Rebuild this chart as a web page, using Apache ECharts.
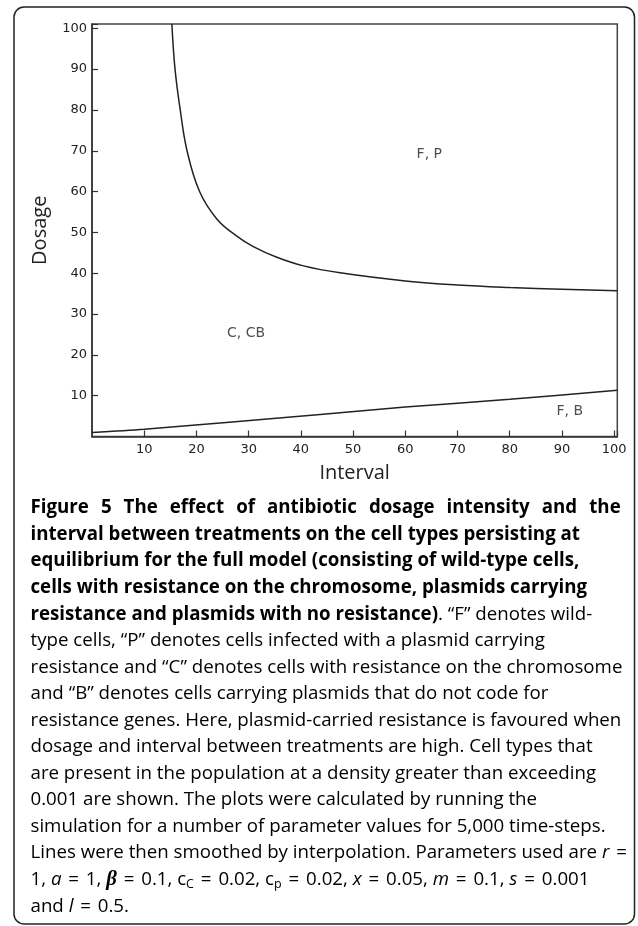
<!DOCTYPE html>
<html>
<head>
<meta charset="utf-8">
<script src="https://cdn.jsdelivr.net/npm/echarts@6/dist/echarts.min.js"></script>
<style>
html,body{margin:0;padding:0;background:#fff;}
#chart{width:638px;height:926px;}
</style>
</head>
<body>
<div id="chart"></div>
<script>
// ---- Data ----
const upperX = [15.3, 15.9, 16.9, 18.2, 20.6, 23.9, 27.6, 30.9, 35.4, 40.5, 47.5, 60, 70, 80, 90, 100.6];
const upperY = [101.05, 90, 80, 70, 60, 53.3, 49.2, 46.5, 43.9, 41.8, 40.1, 38.1, 37.1, 36.5, 36.1, 35.7];
const lowerX = [0, 10, 43.7, 60, 80, 100.6];
const lowerY = [1.0, 1.8, 5.4, 7.2, 9.1, 11.3];
const regionNames = ['F, P', 'C, CB', 'F, B'];
const regionX = [64.6, 29.5, 91.5];
const regionY = [69.0, 25.3, 6.1];
const xTicks = [10, 20, 30, 40, 50, 60, 70, 80, 90, 100];
const yTicks = [10, 20, 30, 40, 50, 60, 70, 80, 90, 100];
const xName = 'Interval';
const yName = 'Dosage';
const captionFirstLineWords = ['Figure', '5', 'The', 'effect', 'of', 'antibiotic', 'dosage', 'intensity', 'and', 'the'];
const captionLines = [
 null, // first line is built from captionFirstLineWords (justified)
 '{b|interval between treatments on the cell types persisting at}',
 '{b|equilibrium for the full model (consisting of wild-type cells,}',
 '{b|cells with resistance on the chromosome, plasmids carrying}',
 '{b|resistance and plasmids with no resistance)}{n|. \u201CF\u201D denotes wild-}',
 '{n|type cells, \u201CP\u201D denotes cells infected with a plasmid carrying}',
 '{n|resistance and \u201CC\u201D denotes cells with resistance on the chromosome}',
 '{n|and \u201CB\u201D denotes cells carrying plasmids that do not code for}',
 '{n|resistance genes. Here, plasmid-carried resistance is favoured when}',
 '{n|dosage and interval between treatments are high. Cell types that}',
 '{n|are present in the population at a density greater than exceeding}',
 '{n|0.001 are shown. The plots were calculated by running the}',
 '{n|simulation for a number of parameter values for 5,000 time-steps.}',
 '{n|Lines were then smoothed by interpolation. Parameters used are }{i|r}{n| }{eq|=}',
 '{n|1, }{i|a}{n| }{eq|=}{n| 1, }{beta|\u03B2}{n| }{eq|=}{n| 0.1, c}{sub|C}{n| }{eq|=}{n| 0.02, c}{sub|p}{n| }{eq|=}{n| 0.02, }{i|x}{n| }{eq|=}{n| 0.05, }{i|m}{n| }{eq|=}{n| 0.1, }{i|s}{n| }{eq|=}{n| 0.001}',
 '{n|and }{i|l}{n| }{eq|=}{n| 0.5.}'
];

// ---- Chart ----
const chart = echarts.init(document.getElementById('chart'), null, {renderer: 'canvas'});
const axisColor = '#333';
const capFont = 'Open Sans';
const capSize = 18.7;
const boldSize = 18.7;
const normalColor = '#4a4a4a';
const boldColor = '#231f20';
const rich = {
  b: {fontFamily: capFont, fontWeight: 'bold', fontSize: boldSize, color: boldColor},
  bj: {fontFamily: capFont, fontWeight: 'bold', fontSize: boldSize, color: boldColor, padding: [0, 7.2, 0, 0]},
  n: {fontFamily: capFont, fontSize: capSize, color: normalColor},
  eq: {fontFamily: capFont, fontSize: capSize, color: normalColor, padding: [0, 2, 0, 2]},
  i: {fontFamily: capFont, fontStyle: 'italic', fontSize: capSize, color: normalColor},
  beta: {fontFamily: 'Liberation Serif', fontWeight: 'bold', fontStyle: 'italic', fontSize: capSize + 2, color: boldColor},
  sub: {fontFamily: capFont, fontSize: 12.5, color: normalColor, padding: [9, 0, 0, 0]}
};
captionLines[0] = captionFirstLineWords.map(function (w, i) {
  return i < captionFirstLineWords.length - 1 ? '{bj|' + w + ' }' : '{b|' + w + '}';
}).join('');
const graphics = [{
  type: 'rect', z: 10, silent: true,
  shape: {x: 14, y: 7, width: 620.5, height: 917, r: 10},
  style: {fill: 'none', stroke: '#222', lineWidth: 1.5}
}];
captionLines.forEach(function (t, k) {
  graphics.push({
    type: 'text', z: 10, silent: true,
    x: 30.5, y: 508 + k * 26.55,
    style: {text: t, rich: rich, verticalAlign: 'middle', align: 'left'}
  });
});
const isTick = function (list) {
  return function (v) {
    for (let i = 0; i < list.length; i++) if (Math.abs(list[i] - v) < 1e-6) return String(list[i]);
    return '';
  };
};
const tickLabel = {fontFamily: 'DejaVu Sans', fontSize: 13, color: '#222'};
chart.setOption({
  animation: false,
  backgroundColor: '#fff',
  grid: {left: 92, right: 20.7, top: 24, bottom: 489.5, show: true, borderColor: '#444', borderWidth: 1.5, backgroundColor: 'transparent'},
  xAxis: {
    type: 'value', min: 0, max: 100.6, interval: 10,
    name: xName, nameLocation: 'middle', nameGap: 27,
    nameTextStyle: {fontFamily: 'Open Sans', fontSize: 20, color: '#222'},
    axisLine: {show: true, lineStyle: {color: axisColor, width: 1.5}},
    axisTick: {show: true, inside: true, length: 6, lineStyle: {color: axisColor, width: 1.2}},
    axisLabel: Object.assign({margin: 7, formatter: isTick(xTicks), showMinLabel: false}, tickLabel),
    splitLine: {show: false}
  },
  yAxis: {
    type: 'value', min: 0, max: 101.05, interval: 10,
    name: yName, nameLocation: 'middle', nameGap: 42,
    nameTextStyle: {fontFamily: 'Open Sans', fontSize: 20, color: '#222'},
    axisLine: {show: true, lineStyle: {color: axisColor, width: 1.5}},
    axisTick: {show: true, inside: true, length: 6, lineStyle: {color: axisColor, width: 1.2}},
    axisLabel: Object.assign({margin: 5, formatter: isTick(yTicks), showMinLabel: false}, tickLabel),
    splitLine: {show: false}
  },
  series: [
    {
      type: 'line', name: 'upper', smooth: 0.4, showSymbol: false, clip: true,
      lineStyle: {color: '#222', width: 1.5},
      data: upperX.map(function (x, i) { return [x, upperY[i]]; })
    },
    {
      type: 'line', name: 'lower', smooth: 0.3, showSymbol: false, clip: true,
      lineStyle: {color: '#222', width: 1.5},
      data: lowerX.map(function (x, i) { return [x, lowerY[i]]; })
    },
    {
      type: 'scatter', name: 'regions', symbolSize: 0, silent: true,
      label: {show: true, position: 'inside', fontFamily: 'DejaVu Sans', fontSize: 14, color: '#222',
        formatter: function (p) { return p.name; }},
      data: regionNames.map(function (n, i) { return {name: n, value: [regionX[i], regionY[i]]}; })
    }
  ],
  graphic: graphics
});
</script>
</body>
</html>
